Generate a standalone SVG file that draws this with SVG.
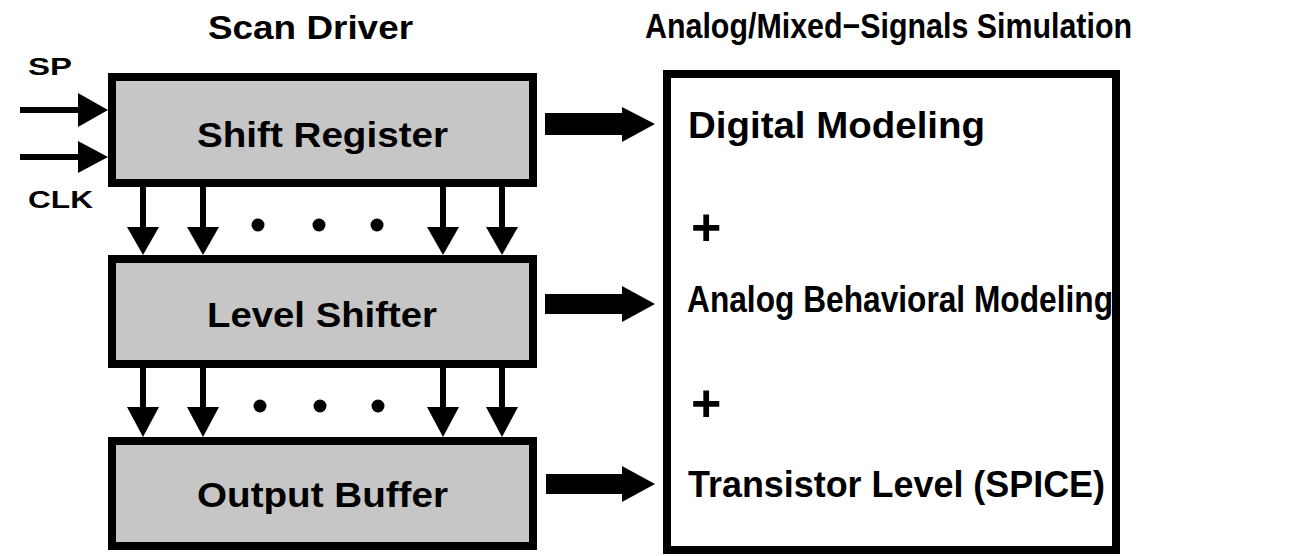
<svg xmlns="http://www.w3.org/2000/svg" width="1299" height="556" viewBox="0 0 1299 556">
<style>
.t{font-family:"Liberation Sans",Arial,sans-serif;font-weight:bold;fill:#000}
.box{fill:#c6c6c6;stroke:#000;stroke-width:8}
.sim{fill:#fff;stroke:#000;stroke-width:8}
.ln{stroke:#000;stroke-width:6;fill:none}
.hd{fill:#000}
</style>
<rect width="1299" height="556" fill="#fff"/>
<text class="t" x="208" y="39" font-size="33" textLength="205" lengthAdjust="spacingAndGlyphs">Scan Driver</text>
<text class="t" x="645" y="38" font-size="35" textLength="487" lengthAdjust="spacingAndGlyphs">Analog/Mixed−Signals Simulation</text>
<text class="t" x="28" y="75" font-size="24" textLength="44" lengthAdjust="spacingAndGlyphs">SP</text>
<text class="t" x="28" y="208" font-size="24" textLength="65" lengthAdjust="spacingAndGlyphs">CLK</text>
<g id="shift-register">
<rect class="box" x="112" y="77" width="421" height="106"/>
<text class="t" x="197" y="147" font-size="35" textLength="251" lengthAdjust="spacingAndGlyphs">Shift Register</text>
</g>
<g id="level-shifter">
<rect class="box" x="112" y="259" width="421" height="105"/>
<text class="t" x="207" y="327" font-size="35" textLength="230" lengthAdjust="spacingAndGlyphs">Level Shifter</text>
</g>
<g id="output-buffer">
<rect class="box" x="112" y="441" width="421" height="105"/>
<text class="t" x="197" y="507" font-size="35" textLength="251" lengthAdjust="spacingAndGlyphs">Output Buffer</text>
</g>
<g id="simulation">
<rect class="sim" x="667" y="74" width="449" height="476"/>
<text class="t" x="688" y="138" font-size="36" textLength="297" lengthAdjust="spacingAndGlyphs">Digital Modeling</text>
<text class="t" x="691" y="245" font-size="52">+</text>
<text class="t" x="687" y="312" font-size="36" textLength="426" lengthAdjust="spacingAndGlyphs">Analog Behavioral Modeling</text>
<text class="t" x="691" y="421" font-size="52">+</text>
<text class="t" x="688" y="497" font-size="36" textLength="417" lengthAdjust="spacingAndGlyphs">Transistor Level (SPICE)</text>
</g>
<g id="connectors">
<line class="ln" x1="20" y1="110" x2="82" y2="110"/>
<polygon class="hd" points="78,93 108,110 78,127"/>
<line class="ln" x1="20" y1="157" x2="82" y2="157"/>
<polygon class="hd" points="78,141 108,157 78,173"/>
<g>
<line class="ln" x1="143" y1="187" x2="143" y2="230"/>
<polygon class="hd" points="127,227 159,227 143,255"/>
<line class="ln" x1="203" y1="187" x2="203" y2="230"/>
<polygon class="hd" points="187,227 219,227 203,255"/>
<line class="ln" x1="443" y1="187" x2="443" y2="230"/>
<polygon class="hd" points="427,227 459,227 443,255"/>
<line class="ln" x1="502" y1="187" x2="502" y2="230"/>
<polygon class="hd" points="486,227 518,227 502,255"/>
<circle cx="258" cy="225" r="6.5"/>
<circle cx="319" cy="225" r="6.5"/>
<circle cx="377" cy="225" r="6.5"/>
</g>
<g>
<line class="ln" x1="143" y1="368" x2="143" y2="410"/>
<polygon class="hd" points="127,407 159,407 143,437"/>
<line class="ln" x1="203" y1="368" x2="203" y2="410"/>
<polygon class="hd" points="187,407 219,407 203,437"/>
<line class="ln" x1="443" y1="368" x2="443" y2="410"/>
<polygon class="hd" points="427,407 459,407 443,437"/>
<line class="ln" x1="502" y1="368" x2="502" y2="410"/>
<polygon class="hd" points="486,407 518,407 502,437"/>
<circle cx="260" cy="406" r="6.5"/>
<circle cx="320" cy="406" r="6.5"/>
<circle cx="378" cy="406" r="6.5"/>
</g>
<polygon class="hd" points="545,113 622,113 622,107 655,124 622,142 622,135 545,135"/>
<polygon class="hd" points="545,294 622,294 622,286 655,304 622,322 622,314 545,314"/>
<polygon class="hd" points="546,474 622,474 622,466 655,484 622,502 622,494 546,494"/>
</g>
</svg>
